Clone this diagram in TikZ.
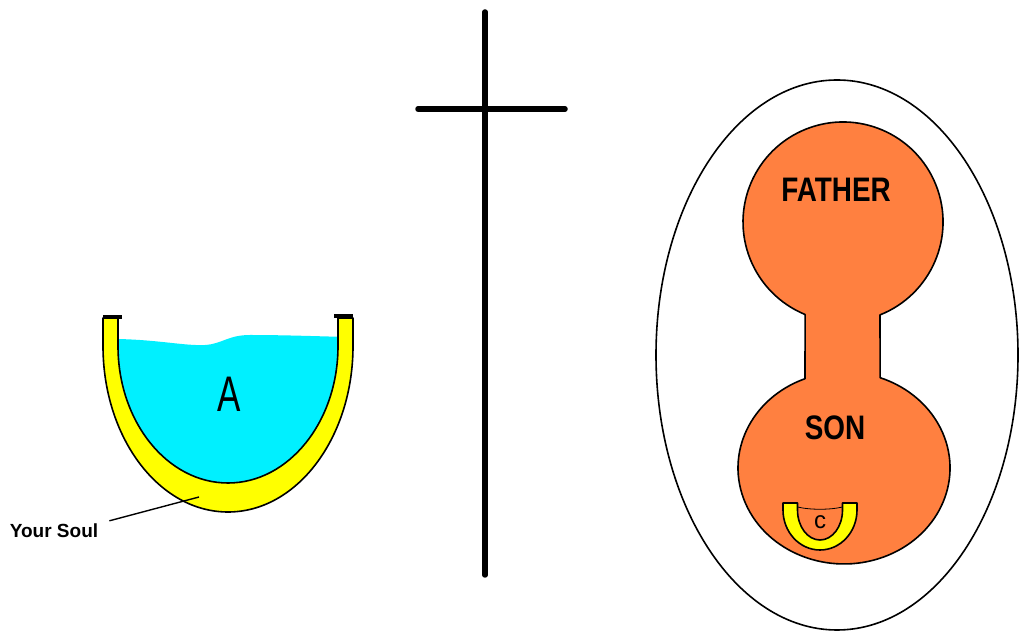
\documentclass[tikz,border=0pt]{standalone}
\usepackage{fontspec}
\setmainfont{Liberation Sans}
\usetikzlibrary{positioning}
\definecolor{soulyellow}{RGB}{255,255,0}
\definecolor{waterblue}{RGB}{0,240,255}
\definecolor{godorange}{RGB}{255,128,64}
\tikzset{
  outline/.style={draw=black, line width=1.6pt},
  bigword/.style={font=\bfseries\fontsize{34}{34}\selectfont, xscale=0.82, inner sep=0pt},
}

\begin{document}
\begin{tikzpicture}[x=1pt, y=1pt, line join=round]
\useasboundingbox (0,0) rectangle (1019,631);

% the cross
\coordinate (crosstop) at (485,619);
\coordinate (crossfoot) at (485,56);
\coordinate (armleft) at (418,522);
\coordinate (armright) at (565,522);
\draw[line width=5.5pt, line cap=round] (crosstop) -- (crossfoot);
\draw[line width=5.5pt, line cap=round] (armleft) -- (armright);

% the bowl (your soul) with its water
\fill[soulyellow] (103,313) -- (103,285) arc[start angle=180, end angle=360, x radius=125, y radius=166]
  -- (353,313) -- (338,313) -- (338,285) arc[start angle=0, end angle=-180, x radius=110, y radius=137]
  -- (118,313) -- cycle;
\begin{scope}
  \clip (118,313) -- (118,285) arc[start angle=180, end angle=360, x radius=110, y radius=137] -- (338,313) -- cycle;
  \fill[waterblue] (110,292) -- (118,292) .. controls (160,291) and (185,285) .. (205,286)
    .. controls (222,287) and (228,296) .. (250,296) .. controls (280,296) and (310,295) .. (346,294)
    -- (346,140) -- (110,140) -- cycle;
\end{scope}
\draw[outline] (103,313) -- (103,285) arc[start angle=180, end angle=360, x radius=125, y radius=166]
  -- (353,313) -- (338,313) -- (338,285) arc[start angle=0, end angle=-180, x radius=110, y radius=137]
  -- (118,313) -- cycle;
\draw[line width=4pt] (103,314) -- (122,314);
\draw[line width=4pt] (334,315) -- (353,315);
\node[font=\fontsize{50}{50}\selectfont, xscale=0.7] (water) at (229,237) {A};

\node[font=\bfseries\fontsize{19}{19}\selectfont, inner sep=0pt] (soul) at (54,100) {Your Soul};
\coordinate (soulmark) at (199,134);
\draw[line width=1.4pt] ([shift={(11pt,3pt)}]soul.north east) -- (soulmark);

% the egg round father and son
\draw[line width=1.6pt] (837,276) ellipse[x radius=181, y radius=275];

\filldraw[fill=godorange, outline] (880,316.1) arc[start angle=291.7, end angle=607.7, radius=100]
  -- (805,252.3) arc[start angle=111.6, end angle=430.1, x radius=106, y radius=96] -- cycle;
\node[bigword] (father) at (836,441) {FATHER};
\node[bigword] (son) at (835,203) {SON};

% the small cup in the son
\filldraw[fill=soulyellow, outline] (783,128) -- (783,121) arc[start angle=180, end angle=360, x radius=37, y radius=40]
  -- (857,128) -- (842.5,128) -- (842.5,121) arc[start angle=0, end angle=-180, x radius=22.5, y radius=30]
  -- (797.5,128) -- cycle;
\draw[line width=0.8pt] (797.5,124) .. controls (810,121) and (830,121) .. (842.5,124);
\node[font=\fontsize{24}{24}\selectfont] (cup) at (820,109) {c};

\end{tikzpicture}
\end{document}
